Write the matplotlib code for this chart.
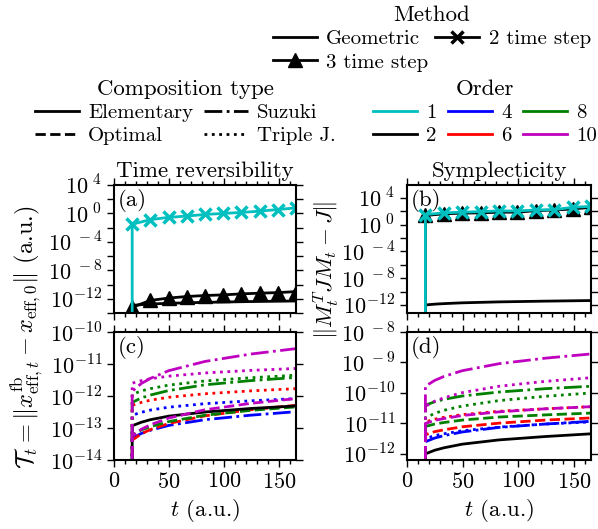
import matplotlib
matplotlib.use("Agg")
import matplotlib.pyplot as plt
from matplotlib.lines import Line2D
from matplotlib.ticker import (FixedLocator, FixedFormatter, MultipleLocator,
                               NullLocator, NullFormatter)
import numpy as np

# Computer Modern look without LaTeX
plt.rcParams['font.family'] = 'cmr10'
plt.rcParams['mathtext.fontset'] = 'cm'
plt.rcParams['axes.unicode_minus'] = False
plt.rcParams['axes.formatter.use_mathtext'] = True

# time grid (a.u.): 0.4 fs steps up to 4 fs
t_steps = [16.54, 33.07, 49.61, 66.14, 82.68, 99.22, 115.75, 132.29, 148.82, 165.36]
t_fine = [16.54, 24.8, 33.07, 49.61, 82.68, 124.0, 165.36]

# ---- top panels, log10 of the error, on t_steps ----
rev_o1_2step = [-1.52, -0.87, -0.55, -0.37, -0.14, 0.0, 0.14, 0.32, 0.55, 0.78]
rev_o2_3step = [-13.2, -12.23, -11.9, -11.68, -11.54, -11.45, -11.31, -11.21, -11.13, -10.99]
sym_o1_2step = [1.49, 1.74, 1.84, 1.93, 2.03, 2.03, 2.17, 2.22, 2.57, 2.71]
sym_o2_3step = [1.35, 1.60, 1.70, 1.74, 1.84, 1.84, 2.07, 2.17, 2.32, 2.57]

# ---- geometric schemes, log10 of the error, on t_fine ----
# time reversibility (panel c)
rev_elem2 = [-12.93, -12.82, -12.74, -12.63, -12.50, -12.39, -12.31]
rev_suz4 = [-13.32, -13.17, -13.07, -12.92, -12.74, -12.60, -12.49]
rev_tri4 = [-12.60, -12.51, -12.44, -12.35, -12.24, -12.15, -12.08]
rev_opt6 = [-13.38, -13.18, -13.05, -12.86, -12.62, -12.43, -12.29]
rev_tri6 = [-12.29, -12.20, -12.13, -12.04, -11.93, -11.84, -11.77]
rev_suz8 = [-12.20, -12.06, -11.97, -11.83, -11.65, -11.52, -11.42]
rev_opt8 = [-13.22, -13.06, -12.96, -12.80, -12.60, -12.45, -12.34]
rev_tri8 = [-11.95, -11.84, -11.77, -11.66, -11.53, -11.43, -11.35]
rev_suz10 = [-11.85, -11.61, -11.45, -11.21, -10.92, -10.69, -10.52]
rev_opt10 = [-13.25, -13.04, -12.90, -12.69, -12.43, -12.23, -12.08]
rev_tri10 = [-11.60, -11.52, -11.46, -11.38, -11.28, -11.20, -11.14]

# symplecticity (panel d)
sym_elem2 = [-12.00, -11.88, -11.80, -11.68, -11.54, -11.43, -11.34]
sym_suz4 = [-11.60, -11.48, -11.40, -11.28, -11.13, -11.02, -10.93]
sym_tri4 = [-11.50, -11.40, -11.34, -11.24, -11.12, -11.02, -10.95]
sym_opt6 = [-11.37, -11.27, -11.21, -11.11, -10.99, -10.89, -10.82]
sym_tri6 = [-10.95, -10.86, -10.80, -10.71, -10.60, -10.52, -10.45]
sym_suz8 = [-10.40, -10.29, -10.21, -10.10, -9.97, -9.86, -9.78]
sym_opt8 = [-11.10, -11.02, -10.97, -10.89, -10.79, -10.72, -10.66]
sym_tri8 = [-10.82, -10.67, -10.57, -10.43, -10.25, -10.11, -10.00]
sym_suz10 = [-9.78, -9.59, -9.46, -9.27, -9.04, -8.86, -8.72]
sym_opt10 = [-11.00, -10.90, -10.84, -10.74, -10.62, -10.52, -10.45]
sym_tri10 = [-10.44, -10.27, -10.16, -9.99, -9.78, -9.62, -9.50]

order_colors = {1: 'c', 2: 'k', 4: 'b', 6: 'r', 8: 'g', 10: 'm'}
comp_styles = {'Elementary': '-', 'Optimal': '--', 'Suzuki': '-.', 'Triple J.': ':'}

LW = 2.0
FS = 15        # legend entries
FS_BIG = 16.5  # titles, labels


def with_drop(t, logv):
    """Prepend a zero so the curve drops vertically out of the log axis."""
    return np.r_[t[0], t], np.r_[0.0, np.power(10.0, logv)]


def exp_label(e):
    # one-digit exponents get padded like in the original
    if abs(e) < 10:
        return r"$10^{\ %d}$" % e
    return r"$10^{%d}$" % e


def style_axis(ax, ylim, major, minor, show_x):
    ax.set_yscale('log')
    ax.set_xlim(0, 165.36)
    ax.set_ylim(*ylim)
    ax.yaxis.set_major_locator(FixedLocator([10.0 ** e for e in major]))
    ax.yaxis.set_major_formatter(FixedFormatter([exp_label(e) for e in major]))
    if minor:
        ax.yaxis.set_minor_locator(FixedLocator([10.0 ** e for e in minor]))
    else:
        ax.yaxis.set_minor_locator(NullLocator())
    ax.yaxis.set_minor_formatter(NullFormatter())
    ax.xaxis.set_major_locator(MultipleLocator(50))
    ax.xaxis.set_minor_locator(MultipleLocator(10))
    ax.tick_params(which='both', direction='out', top=True, right=True,
                   labelsize=16, width=1.0)
    ax.tick_params(which='major', length=5)
    ax.tick_params(which='minor', length=3)
    ax.tick_params(axis='y', which='minor', length=5)
    if not show_x:
        ax.tick_params(labelbottom=False)
    for sp in ax.spines.values():
        sp.set_linewidth(1.5)


def draw_geometric(ax, series):
    for vals, order, comp in series:
        tt, yy = with_drop(t_fine, vals)
        ax.plot(tt, yy, color=order_colors[order], linestyle=comp_styles[comp], lw=LW)


def main():
    fig = plt.figure(figsize=(5.98, 5.29), dpi=100)

    ax_a = fig.add_axes([0.1906, 0.4083, 0.3044, 0.2420])
    ax_c = fig.add_axes([0.1906, 0.1304, 0.3044, 0.2420])
    ax_b = fig.add_axes([0.6806, 0.4083, 0.3077, 0.2420])
    ax_d = fig.add_axes([0.6806, 0.1304, 0.3077, 0.2420])

    # (a) time reversibility, top
    tt, yy = with_drop(t_fine, rev_elem2)
    ax_a.plot(tt, yy, 'k-', lw=LW)
    tt, yy = with_drop(t_steps, rev_o2_3step)
    ax_a.plot(tt, yy, 'k-', lw=LW, marker='^', ms=10, markevery=slice(1, None))
    tt, yy = with_drop(t_steps, rev_o1_2step)
    ax_a.plot(tt, yy, color='c', lw=LW, marker='x', ms=9, mew=2.5,
              markevery=slice(1, None))
    style_axis(ax_a, (1e-14, 1e4), [4, 0, -4, -8, -12], [2, -2, -6, -10, -14], False)

    # (b) symplecticity, top
    tt, yy = with_drop(t_fine, sym_elem2)
    ax_b.plot(tt, yy, 'k-', lw=LW)
    tt, yy = with_drop(t_steps, sym_o2_3step)
    ax_b.plot(tt, yy, 'k-', lw=LW, marker='^', ms=10, markevery=slice(1, None))
    tt, yy = with_drop(t_steps, sym_o1_2step)
    ax_b.plot(tt, yy, color='c', lw=LW, marker='x', ms=9, mew=2.5,
              markevery=slice(1, None))
    style_axis(ax_b, (10 ** -13.2, 10 ** 5.9), [4, 0, -4, -8, -12],
               [2, -2, -6, -10], False)

    # (c) / (d) geometric composition schemes
    rev_series = [
        (rev_suz4, 4, 'Suzuki'), (rev_tri4, 4, 'Triple J.'),
        (rev_opt6, 6, 'Optimal'), (rev_tri6, 6, 'Triple J.'),
        (rev_suz8, 8, 'Suzuki'), (rev_opt8, 8, 'Optimal'), (rev_tri8, 8, 'Triple J.'),
        (rev_elem2, 2, 'Elementary'),
        (rev_opt10, 10, 'Optimal'), (rev_tri10, 10, 'Triple J.'), (rev_suz10, 10, 'Suzuki'),
    ]
    sym_series = [
        (sym_suz4, 4, 'Suzuki'), (sym_tri4, 4, 'Triple J.'),
        (sym_opt6, 6, 'Optimal'), (sym_tri6, 6, 'Triple J.'),
        (sym_suz8, 8, 'Suzuki'), (sym_opt8, 8, 'Optimal'), (sym_tri8, 8, 'Triple J.'),
        (sym_elem2, 2, 'Elementary'),
        (sym_opt10, 10, 'Optimal'), (sym_tri10, 10, 'Triple J.'), (sym_suz10, 10, 'Suzuki'),
    ]
    draw_geometric(ax_c, rev_series)
    draw_geometric(ax_d, sym_series)
    style_axis(ax_c, (1e-14, 1e-10), [-10, -11, -12, -13, -14], None, True)
    style_axis(ax_d, (10 ** -12.2, 1e-8), [-8, -9, -10, -11, -12], None, True)

    # panel letters and titles
    for ax, letter in zip([ax_a, ax_b, ax_c, ax_d], ['(a)', '(b)', '(c)', '(d)']):
        ax.text(0.02, 0.97, letter, transform=ax.transAxes, va='top', ha='left',
                fontsize=FS_BIG)
    ax_a.set_title('Time reversibility', fontsize=FS_BIG, pad=6)
    ax_b.set_title('Symplecticity', fontsize=FS_BIG, pad=6)
    ax_c.set_xlabel(r'$t$ (a.u.)', fontsize=FS_BIG)
    ax_d.set_xlabel(r'$t$ (a.u.)', fontsize=FS_BIG)

    fig.text(28 / 598, 1 - 337 / 529,
             r'$\mathcal{T}_t = \|x^{\rm fb}_{{\rm eff},t} - x_{{\rm eff},0}\|$ (a.u.)',
             rotation=90, ha='center', va='center', fontsize=17.5)
    fig.text(326 / 598, 1 - 270 / 529, r'$\|M_t^T J M_t - J\|$',
             rotation=90, ha='center', va='center', fontsize=FS_BIG)

    # legends
    leg_kw = dict(frameon=False, fontsize=FS, title_fontsize=FS_BIG,
                  handlelength=2.1, handletextpad=0.45,
                  labelspacing=0.22, borderpad=0.2, borderaxespad=0)
    method_handles = [
        Line2D([], [], color='k', lw=LW),
        Line2D([], [], color='k', lw=LW, marker='^', ms=10),
        Line2D([], [], color='k', lw=LW, marker='x', ms=9, mew=2.5),
    ]
    fig.legend(method_handles, ['Geometric', '3 time step', '2 time step'],
               ncol=2, title='Method', loc='upper center', columnspacing=0.35,
               bbox_to_anchor=(0.722, 0.997), **leg_kw)

    comp_names = ['Elementary', 'Optimal', 'Suzuki', 'Triple J.']
    comp_handles = [Line2D([], [], color='k', lw=LW, linestyle=comp_styles[n])
                    for n in comp_names]
    fig.legend(comp_handles, comp_names, ncol=2, title='Composition type',
               loc='upper center', columnspacing=0.5,
               bbox_to_anchor=(0.31, 0.858), **leg_kw)

    orders = [1, 2, 4, 6, 8, 10]
    order_handles = [Line2D([], [], color=order_colors[o], lw=LW) for o in orders]
    fig.legend(order_handles, [str(o) for o in orders], ncol=3, title='Order',
               loc='upper center', columnspacing=0.55,
               bbox_to_anchor=(0.811, 0.858), **leg_kw)

    fig.savefig('out.png', dpi=100)


if __name__ == "__main__":
    main()
